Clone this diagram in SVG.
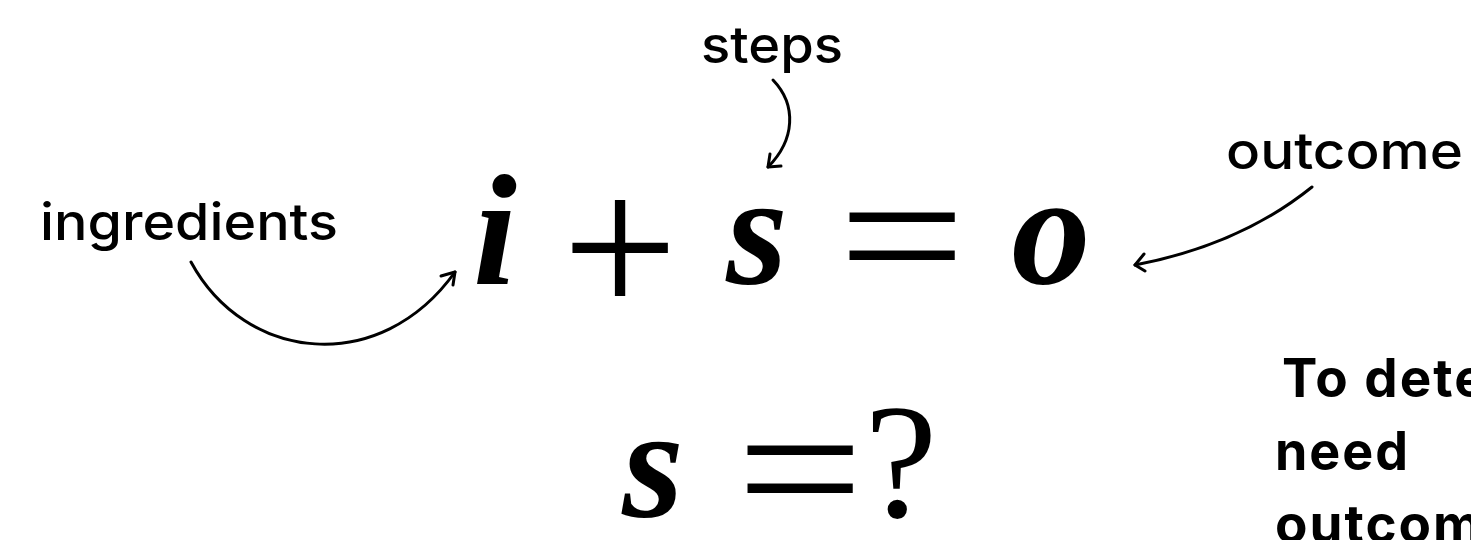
<svg xmlns="http://www.w3.org/2000/svg" width="1471" height="540" viewBox="0 0 1471 540">
<style>
.lbl{font-family:Inter,"Noto Sans",sans-serif;font-size:51px;font-weight:500;fill:#000}
.bold{font-family:Inter,"Noto Sans",sans-serif;font-size:53px;font-weight:700;letter-spacing:2px;fill:#000}
.mv{font-family:"Liberation Serif",serif;font-style:italic;font-weight:700;font-size:158px;fill:#000}
.op{font-family:"Liberation Serif",serif;font-size:190px;fill:#000}
.arr{fill:none;stroke:#000;stroke-width:3;stroke-linecap:round;stroke-linejoin:round}
</style>
<rect width="1471" height="540" fill="#fff"/>
<g id="equation">
<text class="mv" x="495" y="284" text-anchor="middle">i</text>
<text class="op" x="620" y="316" text-anchor="middle" style="font-size:205px">+</text>
<text class="mv" x="757" y="283" text-anchor="middle">s</text>
<text class="op" x="902" y="300" text-anchor="middle" transform="matrix(1.19,0,0,1,-171.4,0)">=</text>
<text class="mv" x="1051" y="283" text-anchor="middle">o</text>
</g>
<g id="question">
<text class="mv" x="653" y="516" text-anchor="middle">s</text>
<text class="op" x="800" y="533" text-anchor="middle" transform="matrix(1.19,0,0,1,-152,0)">=</text>
<text class="op" x="901" y="517" text-anchor="middle" style="font-size:164px">?</text>
</g>
<g id="label-ingredients"><text class="lbl" x="40" y="240" textLength="298" lengthAdjust="spacingAndGlyphs">ingredients</text></g>
<g id="label-steps"><text class="lbl" x="701" y="63" textLength="142" lengthAdjust="spacingAndGlyphs">steps</text></g>
<g id="label-outcome"><text class="lbl" x="1226" y="169" textLength="237" lengthAdjust="spacingAndGlyphs">outcome</text></g>
<g id="note">
<text class="bold" x="1282" y="397">To dete</text>
<text class="bold" x="1275" y="470" textLength="135" lengthAdjust="spacingAndGlyphs">need</text>
<text class="bold" x="1275" y="543">outcom</text>
</g>
<g id="connectors">
<path class="arr" d="M191,262 C245,362 380,377 455,272"/>
<path class="arr" d="M441,276 L455,272 L453,285"/>
<path class="arr" d="M773,80 C797,105 795,140 768,167"/>
<path class="arr" d="M770,154 L768,167 L781,166"/>
<path class="arr" d="M1312,187 Q1240,245 1135,265"/>
<path class="arr" d="M1144,254 L1135,265 L1145,271"/>
</g>
</svg>
